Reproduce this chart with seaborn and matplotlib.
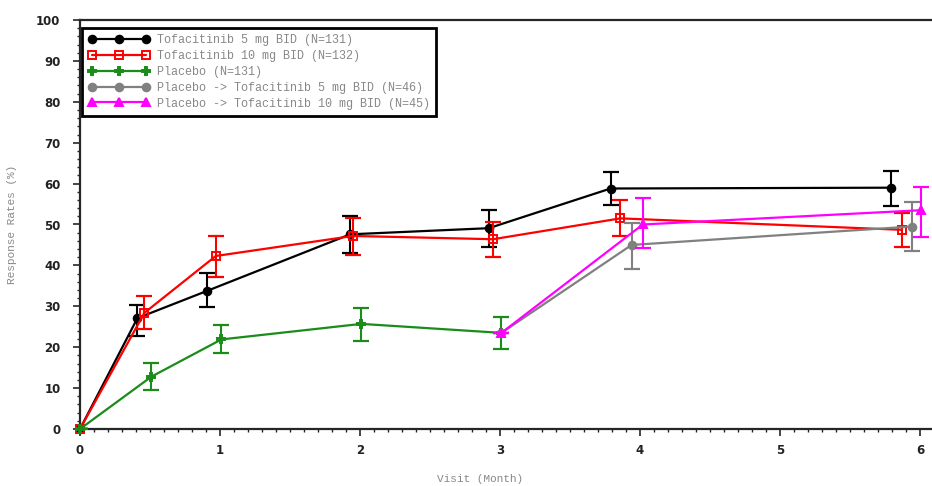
import numpy as np
import pandas as pd
import matplotlib
matplotlib.use("Agg")
import matplotlib.pyplot as plt
from matplotlib.ticker import MultipleLocator
import seaborn as sns

# values
t5_month = [0, 0.41, 0.91, 1.93, 2.92, 3.79, 5.79]
t5_resp = [0, 27.1, 33.8, 47.6, 49.1, 58.8, 59.0]
t5_lo = [0, 22.7, 29.9, 43.0, 44.6, 54.8, 54.6]
t5_hi = [0, 30.3, 38.1, 52.2, 53.5, 62.9, 63.2]

t10_month = [0, 0.46, 0.97, 1.95, 2.95, 3.86, 5.87]
t10_resp = [0, 28.4, 42.3, 47.2, 46.4, 51.5, 48.7]
t10_lo = [0, 24.4, 37.2, 42.5, 42.0, 47.2, 44.6]
t10_hi = [0, 32.5, 47.2, 51.6, 50.7, 56.0, 52.8]

pbo_month = [0, 0.51, 1.01, 2.01, 3.01]
pbo_resp = [0, 12.8, 21.9, 25.7, 23.5]
pbo_lo = [0, 9.5, 18.6, 21.6, 19.5]
pbo_hi = [0, 16.1, 25.4, 29.6, 27.5]

p5_month = [3.01, 3.94, 5.94]
p5_resp = [23.5, 45.0, 49.5]
p5_lo = [23.5, 39.1, 43.4]
p5_hi = [23.5, 50.4, 55.6]

p10_month = [3.01, 4.02, 6.01]
p10_resp = [23.5, 50.0, 53.5]
p10_lo = [23.5, 44.3, 47.0]
p10_hi = [23.5, 56.5, 59.2]

labels = ["Tofacitinib 5 mg BID (N=131)",
          "Tofacitinib 10 mg BID (N=132)",
          "Placebo (N=131)",
          "Placebo -> Tofacitinib 5 mg BID (N=46)",
          "Placebo -> Tofacitinib 10 mg BID (N=45)"]
colors = ["#000000", "#ff0000", "#1a8c1a", "#808080", "#ff00ff"]
markers = ["o", "s", "P", "o", "^"]
faces = ["#000000", "none", "#1a8c1a", "#808080", "#ff00ff"]

series = [(t5_month, t5_resp, t5_lo, t5_hi),
          (t10_month, t10_resp, t10_lo, t10_hi),
          (pbo_month, pbo_resp, pbo_lo, pbo_hi),
          (p5_month, p5_resp, p5_lo, p5_hi),
          (p10_month, p10_resp, p10_lo, p10_hi)]

sns.set_style("ticks")
plt.rcParams['font.family'] = ['DejaVu Sans']

fig = plt.figure(figsize=(9.32, 4.86), dpi=100)
ax = fig.add_axes([80/932, 57/486, 852/932, 409/486])

for (mx, ry, lo, hi), lab, col, mk, fc in zip(series, labels, colors, markers, faces):
    df = pd.DataFrame({"Month": mx, "Resp": ry})
    sns.lineplot(data=df, x="Month", y="Resp", ax=ax, color=col, lw=1.6,
                 marker=mk, markersize=5.5, markerfacecolor=fc, markeredgecolor=col,
                 markeredgewidth=1.4, label=lab, clip_on=False, zorder=3)
    ry = np.array(ry)
    yerr = [ry - np.array(lo), np.array(hi) - ry]
    ax.errorbar(mx, ry, yerr=yerr, fmt="none", ecolor=col, elinewidth=1.5,
                capsize=5.5, capthick=1.6, zorder=3)

ax.set_xlim(0, 852/140)
ax.set_ylim(0, 100)
ax.xaxis.set_major_locator(MultipleLocator(1))
ax.xaxis.set_minor_locator(MultipleLocator(0.1))
ax.yaxis.set_major_locator(MultipleLocator(10))
ax.yaxis.set_minor_locator(MultipleLocator(2))
ax.tick_params(which="major", length=5, width=1.2, labelsize=8.5, labelcolor="#222222", pad=6)
ax.tick_params(axis="y", which="major", pad=9)
ax.tick_params(which="minor", length=2.5, width=1)
for t in ax.get_xticklabels() + ax.get_yticklabels():
    t.set_fontweight("bold")
ax.spines["right"].set_visible(False)
for s in ["left", "bottom", "top"]:
    ax.spines[s].set_linewidth(1.6)

ax.set_xlabel("Visit (Month)", family="Liberation Mono", fontsize=8, color="#888888")
ax.xaxis.set_label_coords(0.47, -0.11)
ax.set_ylabel("Response Rates (%)", family="Liberation Mono", fontsize=8, color="#888888")
ax.yaxis.set_label_coords(-0.074, 0.5)

leg = ax.legend(loc="upper left", bbox_to_anchor=(-0.005, 0.995), prop={"family": "Liberation Mono", "size": 8.5},
                numpoints=3, handlelength=5.2, handletextpad=0.6, labelspacing=0.32,
                borderpad=0.55, fancybox=False, framealpha=1, edgecolor="black")
leg.get_frame().set_linewidth(2)
for t in leg.get_texts():
    t.set_color("#888888")

fig.savefig("out.png", dpi=100)
